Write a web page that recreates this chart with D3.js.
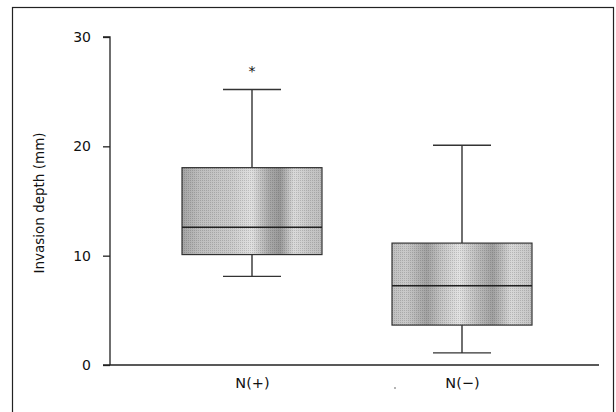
<!DOCTYPE html>
<html>
<head>
<meta charset="utf-8">
<script src="https://cdn.jsdelivr.net/npm/d3@7"></script>
<style>
  html, body { margin: 0; padding: 0; background: #fff; }
  svg { display: block; }
  text { font-family: "DejaVu Sans", sans-serif; fill: #111; }
</style>
</head>
<body>
<svg id="chart" width="616" height="412"></svg>
<script>
// ---- data ----
const categories = ["N(+)", "N(\u2212)"];
const whiskerLow  = [8.1, 1.1];
const q1          = [10.1, 3.65];
const medians     = [12.6, 7.25];
const q3          = [18.05, 11.15];
const whiskerHigh = [25.2, 20.1];
const outliers    = [[27.1], []];
const yTicks      = [0, 10, 20, 30];
const yLabel      = "Invasion depth (mm)";

// ---- layout ----
const FONT = "'DejaVu Sans', sans-serif";
const svg = d3.select("#chart");
const axisX = 110, axisBottom = 365, axisTop = 37, axisRight = 599;

const y = d3.scaleLinear().domain([0, 30]).range([axisBottom, axisTop]);
const x = d3.scalePoint().domain(categories).range([252, 462]);
const boxW = 140, capW = 58;

// outer frame
svg.append("rect")
  .attr("x", 12.5).attr("y", 7.5).attr("width", 601).attr("height", 420)
  .attr("fill", "none").attr("stroke", "#222").attr("stroke-width", 1.2);

// gradients imitating the halftone shading
const defs = svg.append("defs");
const stops = [
  [[0,"#a4a4a4"],[0.12,"#bdbdbd"],[0.35,"#cbcbcb"],[0.5,"#e0e0e0"],[0.62,"#aaaaaa"],[0.7,"#989898"],[0.8,"#dadada"],[0.9,"#c8c8c8"],[1,"#bebebe"]],
  [[0,"#c0c0c0"],[0.1,"#cacaca"],[0.25,"#a2a2a2"],[0.35,"#c4c4c4"],[0.48,"#e2e2e2"],[0.6,"#bfbfbf"],[0.72,"#a0a0a0"],[0.85,"#d8d8d8"],[1,"#c4c4c4"]]
];
categories.forEach((c, i) => {
  const g = defs.append("linearGradient").attr("id", "g" + i)
    .attr("x1", "0").attr("x2", "1").attr("y1", "0").attr("y2", "0");
  stops[i].forEach(s => g.append("stop").attr("offset", s[0]).attr("stop-color", s[1]));
});
// dot pattern overlay
const pat = defs.append("pattern").attr("id", "dots").attr("width", 2).attr("height", 2)
  .attr("patternUnits", "userSpaceOnUse");
pat.append("rect").attr("width", 1).attr("height", 1).attr("fill", "rgba(0,0,0,0.15)");

// y axis
const yAxis = d3.axisLeft(y).tickValues(yTicks).tickSize(7).tickPadding(12).tickFormat(d3.format("d"));
const gy = svg.append("g").attr("transform", `translate(${axisX},0)`).call(yAxis);
gy.select(".domain").attr("stroke", "#222").attr("stroke-width", 1.3).attr("d", `M-7,${axisTop}H0V${axisBottom}`);
gy.selectAll(".tick line").attr("stroke", "#222").attr("stroke-width", 1.3);
gy.selectAll(".tick text").attr("font-size", 14).style("font-family", FONT).attr("fill", "#111");

// x axis
const xAxis = d3.axisBottom(x).tickSize(0).tickPadding(13);
const gx = svg.append("g").attr("transform", `translate(0,${axisBottom})`).call(xAxis);
gx.select(".domain").attr("stroke", "#222").attr("stroke-width", 1.3).attr("d", `M${axisX - 7},0H${axisRight}`);
gx.selectAll(".tick text").attr("font-size", 14.5).style("font-family", FONT).attr("fill", "#111");

// y label
svg.append("text")
  .attr("transform", `translate(44,${(axisTop + axisBottom) / 2 + 2}) rotate(-90)`)
  .attr("text-anchor", "middle").attr("font-size", 13.5)
  .text(yLabel);

// boxes
const boxes = svg.append("g");
categories.forEach((c, i) => {
  const cx = x(c);
  const g = boxes.append("g");
  g.append("line").attr("x1", cx).attr("x2", cx).attr("y1", y(whiskerHigh[i])).attr("y2", y(q3[i]))
    .attr("stroke", "#222").attr("stroke-width", 1.3);
  g.append("line").attr("x1", cx).attr("x2", cx).attr("y1", y(q1[i])).attr("y2", y(whiskerLow[i]))
    .attr("stroke", "#222").attr("stroke-width", 1.3);
  [whiskerHigh[i], whiskerLow[i]].forEach(v => {
    g.append("line").attr("x1", cx - capW / 2).attr("x2", cx + capW / 2).attr("y1", y(v)).attr("y2", y(v))
      .attr("stroke", "#333").attr("stroke-width", 1.3);
  });
  g.append("rect").attr("x", cx - boxW / 2).attr("width", boxW)
    .attr("y", y(q3[i])).attr("height", y(q1[i]) - y(q3[i]))
    .attr("fill", `url(#g${i})`).attr("stroke", "#333").attr("stroke-width", 1.2);
  g.append("rect").attr("x", cx - boxW / 2).attr("width", boxW)
    .attr("y", y(q3[i])).attr("height", y(q1[i]) - y(q3[i]))
    .attr("fill", "url(#dots)");
  g.append("line").attr("x1", cx - boxW / 2).attr("x2", cx + boxW / 2)
    .attr("y1", y(medians[i])).attr("y2", y(medians[i]))
    .attr("stroke", "#222").attr("stroke-width", 1.3);
  outliers[i].forEach(v => {
    g.append("text").attr("x", cx).attr("y", y(v) + 7).attr("text-anchor", "middle")
      .attr("font-size", 14).attr("fill", "#111").text("*");
  });
});

// small stray dot near the N(−) label
svg.append("circle").attr("cx", 395).attr("cy", 388).attr("r", 0.8).attr("fill", "#555");
</script>
</body>
</html>
